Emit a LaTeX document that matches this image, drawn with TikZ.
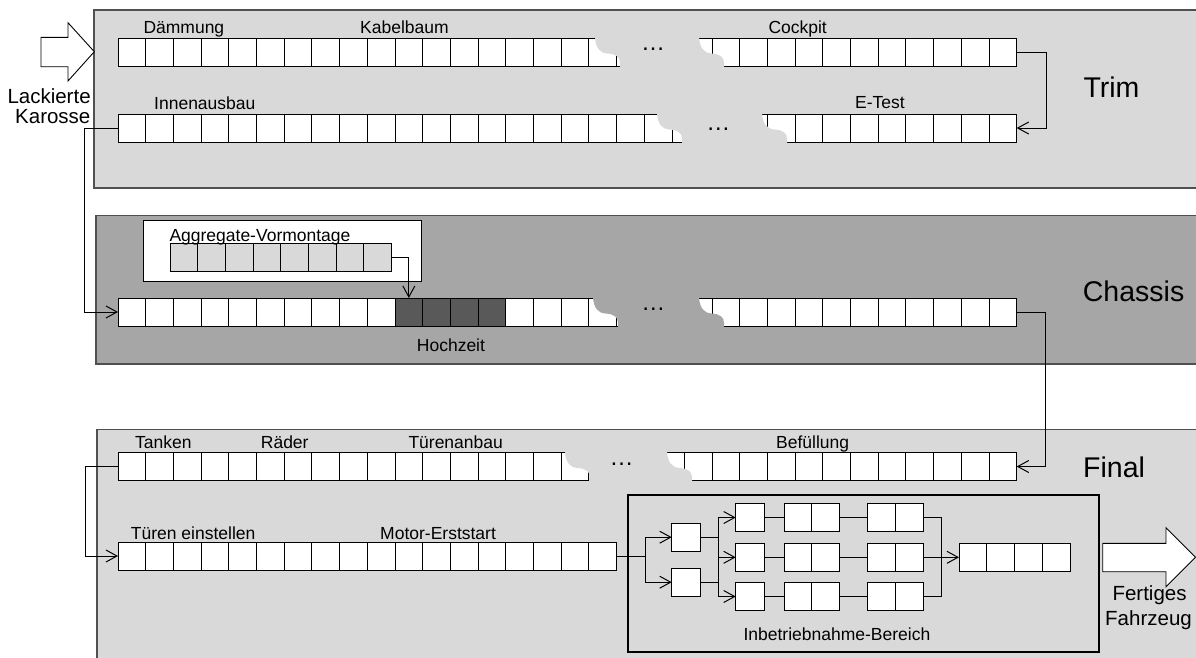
\documentclass[tikz,border=0pt]{standalone}
\usepackage{fontspec}
\setmainfont{Liberation Sans}
\usetikzlibrary{arrows.meta}
\definecolor{trimgray}{HTML}{D9D9D9}
\definecolor{chgray}{HTML}{A6A6A6}
\definecolor{darkcell}{HTML}{595959}
\definecolor{panelline}{HTML}{505050}
% #1 left wave top x, #2 right wave top x, #3 row top y, #4 row bottom y, #5 colour
\newcommand{\wavegap}[5]{%
  \fill[#5] ({#1},{#3-1.5}) -- ({#1},{#3})
    .. controls ({#1+1},{#3+10}) and ({#1+5},{#3+15}) .. ({#1+12.5},{#3+15.5})
    .. controls ({#1+21},{#3+16}) and ({#1+25},{#3+19}) .. ({#1+25},{#3+25})
    -- ({#1+25},{#4+1.5}) -- ({#2+25},{#4+1.5}) -- ({#2+25},{#3+25})
    .. controls ({#2+25},{#3+19}) and ({#2+21},{#3+16}) .. ({#2+12.5},{#3+15.5})
    .. controls ({#2+5},{#3+15}) and ({#2+1},{#3+10}) .. ({#2},{#3})
    -- ({#2},{#3-1.5}) -- cycle;}
\begin{document}
\begin{tikzpicture}[x=1pt,y=-1pt,
  cell/.style={draw=black, line width=0.9pt, fill=white, minimum width=27.7pt,
    minimum height=28pt, inner sep=0pt, outer sep=0pt},
  panel/.style={draw=panelline, line width=1.5pt},
  lbl/.style={anchor=base west, inner sep=0pt, font=\fontsize{17.5}{20}\selectfont},
  big/.style={anchor=base west, inner sep=0pt, font=\fontsize{20.5}{24}\selectfont},
  sect/.style={anchor=base west, inner sep=0pt, font=\fontsize{28.5}{32}\selectfont},
  dots/.style={anchor=base, inner sep=0pt, font=\fontsize{24}{26}\selectfont},
  conn/.style={line width=1pt},
  arr/.style={line width=1pt, -{Straight Barb[length=11pt,width=12pt]}}]
\clip (0,0) rectangle (1196,657);
% panels
\draw[panel, fill=trimgray] (94,10) rectangle (1210,188);
\draw[panel, fill=chgray] (96,215.7) rectangle (1210,364);
\draw[panel, fill=trimgray] (97,429.3) rectangle (1210,670);
% aggregate box
\draw[line width=1pt, fill=white] (143.3,220) rectangle (421.7,281);
\foreach \i in {0,...,7} \node[cell, fill=trimgray] (ag\i) at ({183.85+27.7*\i},257.5) {};
% Trim row 1
\foreach \i in {0,...,18} \node[cell] (tAl\i) at ({131.85+27.7*\i},52) {};
\foreach \i in {0,...,11} \node[cell] (tAr\i) at ({698.15+27.7*\i},52) {};
\wavegap{595}{699}{38}{66}{trimgray}
% Trim row 2
\foreach \i in {0,...,20} \node[cell] (tBl\i) at ({131.85+27.7*\i},128) {};
\foreach \i in {0,...,9} \node[cell] (tBr\i) at ({753.55+27.7*\i},128) {};
\wavegap{657}{762}{114}{142}{trimgray}
% Chassis row
\foreach \i in {0,...,9} \node[cell] (chl\i) at ({131.85+27.7*\i},312) {};
\foreach \i in {10,...,13} \node[cell, fill=darkcell] (chl\i) at ({131.85+27.7*\i},312) {};
\foreach \i in {14,...,18} \node[cell] (chl\i) at ({131.85+27.7*\i},312) {};
\foreach \i in {0,...,11} \node[cell] (chr\i) at ({698.15+27.7*\i},312) {};
\wavegap{593}{699}{298}{326}{chgray}
% Final row 1
\foreach \i in {0,...,16} \node[cell] (fAl\i) at ({131.85+27.7*\i},466.5) {};
\foreach \i in {0,...,12} \node[cell] (fAr\i) at ({670.45+27.7*\i},466.5) {};
\wavegap{565}{667}{452.5}{480.5}{trimgray}
% Final row 2
\foreach \i in {0,...,17} \node[cell] (fB\i) at ({131.85+27.7*\i},556) {};
% dots
\node[dots] (d1) at (653,50.8) {…};
\node[dots] (d2) at (718.3,130.8) {…};
\node[dots] (d3) at (653.3,310.8) {…};
\node[dots] (d4) at (621.7,465.8) {…};
% labels
\node[lbl] (lD) at (143.3,33.3) {Dämmung};
\node[lbl] (lK) at (360,33.3) {Kabelbaum};
\node[lbl] (lC) at (768.3,33.3) {Cockpit};
\node[lbl] (lI) at (154,109.3) {Innenausbau};
\node[lbl] (lE) at (855,108.8) {E-Test};
\node[big] (lLa) at (7.3,103.3) {Lackierte};
\node[big] (lKa) at (15,123.3) {Karosse};
\node[sect] (lT) at (1083.3,97.3) {Trim};
\node[lbl] (lA) at (169.3,241.7) {Aggregate-Vormontage};
\node[lbl] (lH) at (416.7,351.7) {Hochzeit};
\node[sect] (lCh) at (1082.7,301.7) {Chassis};
\node[lbl] (lTa) at (135,448.3) {Tanken};
\node[lbl] (lR) at (260.7,448.3) {Räder};
\node[lbl] (lTu) at (408.3,448.3) {Türenanbau};
\node[lbl] (lB) at (776,448.3) {Befüllung};
\node[sect] (lF) at (1083,477.5) {Final};
\node[lbl] (lTe) at (130.7,539) {Türen einstellen};
\node[lbl] (lM) at (380,539) {Motor-Erststart};
\node[lbl] (lIB) at (743.3,640.7) {Inbetriebnahme-Bereich};
\node[big] (lFe) at (1112.3,600.7) {Fertiges};
\node[big] (lFa) at (1105,625.7) {Fahrzeug};
% connectors between lines
\draw[arr] (tAr11.east) -- ++(30,0) |- (tBr9.east);
\draw[arr] (tBl0.west) -- ++(-34,0) |- (chl0.west);
\draw[arr] (ag7.east) -| (chl10.north);
\draw[arr] (chr11.east) -- ++(29,0) |- (fAr12.east);
\draw[arr] (fAl0.west) -- ++(-32.5,0) |- (fB0.west);
% Inbetriebnahme area
\draw[line width=2pt] (628.3,495) rectangle (1099,651.7);
\node[cell, minimum width=28.3pt] (a1) at (685.85,537.2) {};
\node[cell, minimum width=28.3pt] (a2) at (685.85,582.2) {};
\coordinate (s1) at (645,556);
\coordinate (s2) at (718.3,557.3);
\coordinate (s3) at (941,557.3);
\foreach \r/\y in {1/517.5,2/557.3,3/596.5}{
  \node[cell, minimum width=28.3pt] (b\r) at (749.85,\y) {};
  \node[cell] (c\r0) at (797.85,\y) {};
  \node[cell] (c\r1) at (825.55,\y) {};
  \node[cell] (e\r0) at (881.6,\y) {};
  \node[cell] (e\r1) at (909.3,\y) {};
  \draw[conn] (b\r.east) -- (c\r0.west);
  \draw[conn] (c\r1.east) -- (e\r0.west);
  \draw[conn] (e\r1.east) -| (s3);
}
\foreach \i in {0,...,3} \node[cell, minimum width=27.9pt] (g\i) at ({972.95+27.9*\i},557.3) {};
\draw[conn] (fB17.east) -- (s1);
\draw[arr] (s1) |- (a1.west);
\draw[arr] (s1) |- (a2.west);
\draw[conn] (a1.east) -| (s2);
\draw[conn] (a2.east) -| (s2);
\draw[arr] (s2) |- (b1.west);
\draw[arr] (s2) -- (b2.west);
\draw[arr] (s2) |- (b3.west);
\draw[arr] (s3) -- (g0.west);
% block arrows
\draw[line width=0.9pt, fill=white] (41,37.3) -- (68,37.3) -- (68,22.7) -- (94.3,51.7)
  -- (68,81) -- (68,66.7) -- (41,66.7) -- cycle;
\draw[line width=0.9pt, fill=white] (1102.7,543.3) -- (1166,543.3) -- (1166,527.7)
  -- (1195.5,557.2) -- (1166,586.7) -- (1166,571.7) -- (1102.7,571.7) -- cycle;
\end{tikzpicture}
\end{document}
